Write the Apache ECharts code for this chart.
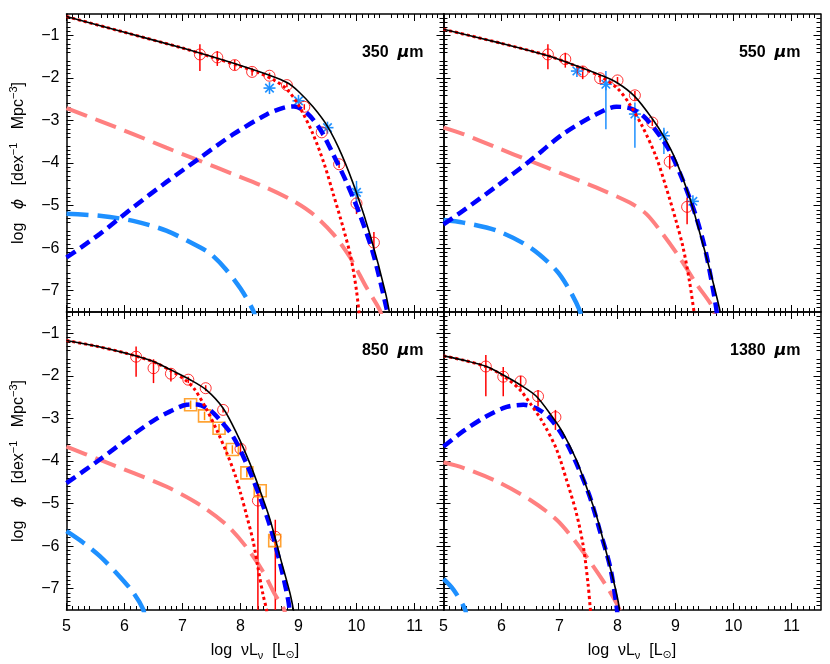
<!DOCTYPE html>
<html>
<head>
<meta charset="utf-8">
<script src="https://cdn.jsdelivr.net/npm/echarts@6/dist/echarts.min.js"></script>
<style>
  html, body { margin: 0; padding: 0; background: #fff; }
  #chart { width: 830px; height: 664px; background: #fff; }
</style>
</head>
<body>
<div id="chart"></div>
<script>
// curves: [log nuL_nu, log phi]
// 350 um
var total350 = [[5,-0.56],[6,-0.93],[7,-1.30],[7.5,-1.50],[8,-1.71],[8.5,-1.94],[8.8,-2.11],[9.0,-2.32],[9.25,-2.68],[9.5,-3.14],[9.75,-3.82],[10,-4.70],[10.25,-5.76],[10.5,-7.05],[10.6,-7.75]];
var dotted350 = [[5,-0.56],[6,-0.93],[7,-1.30],[7.5,-1.51],[8,-1.73],[8.3,-1.87],[8.6,-2.07],[8.8,-2.27],[9.0,-2.64],[9.25,-3.32],[9.45,-4.05],[9.6,-4.73],[9.77,-5.52],[9.9,-6.2],[10.0,-7.0],[10.06,-7.75]];
var blue350 = [[5,-6.22],[5.57,-5.67],[6.15,-5.04],[6.72,-4.45],[7.3,-3.88],[7.87,-3.33],[8.45,-2.86],[8.75,-2.70],[8.92,-2.67],[9.14,-2.82],[9.37,-3.2],[9.6,-3.8],[9.83,-4.46],[10.06,-5.22],[10.29,-6.14],[10.52,-7.43],[10.56,-7.75]];
var pink350 = [[5,-2.71],[5.57,-3.01],[6.15,-3.32],[6.72,-3.64],[7.3,-3.95],[7.87,-4.26],[8.45,-4.58],[8.91,-4.89],[9.25,-5.20],[9.6,-5.67],[9.89,-6.22],[10.17,-6.92],[10.4,-7.45],[10.46,-7.75]];
var cyan350 = [[5,-5.19],[5.57,-5.24],[6.15,-5.36],[6.72,-5.59],[7.3,-5.98],[7.5,-6.15],[7.75,-6.5],[8.0,-6.95],[8.22,-7.47],[8.27,-7.75]];
// points: [x, y, yLow, yHigh]
var circles350 = [[7.3,-1.45,-1.84,-1.21],[7.6,-1.52,-1.72,-1.37],[7.9,-1.70,-1.82,-1.58],[8.2,-1.86,-1.95,-1.76],[8.5,-1.95,-2.02,-1.88],[8.8,-2.17,-2.22,-2.12],[9.1,-2.68,-2.75,-2.62],[9.4,-3.28,-3.36,-3.20],[9.7,-4.03,-4.12,-3.94],[10.0,-4.95,-5.2,-4.75],[10.3,-5.87,-6.2,-5.62]];
var stars350 = [[8.5,-2.24,-2.24,-2.24],[9.0,-2.54,-2.58,-2.50],[9.5,-3.17,-3.22,-3.12],[10.0,-4.69,-5.03,-4.42]];

// 550 um
var total550 = [[5,-0.86],[6,-1.19],[6.8,-1.48],[7.3,-1.72],[7.7,-1.93],[8.0,-2.12],[8.3,-2.44],[8.6,-2.96],[8.8,-3.38],[9.0,-3.92],[9.25,-4.84],[9.4,-5.55],[9.6,-6.55],[9.76,-7.43],[9.8,-7.75]];
var dotted550 = [[5,-0.86],[6,-1.19],[6.8,-1.48],[7.3,-1.73],[7.7,-1.96],[8.0,-2.25],[8.2,-2.60],[8.44,-3.17],[8.67,-3.87],[8.84,-4.58],[9.01,-5.36],[9.13,-5.98],[9.24,-6.77],[9.32,-7.5],[9.35,-7.75]];
var blue550 = [[5,-5.44],[5.34,-5.12],[5.92,-4.54],[6.49,-3.95],[7.06,-3.32],[7.64,-2.85],[7.98,-2.68],[8.21,-2.71],[8.44,-2.89],[8.67,-3.25],[8.9,-3.72],[9.13,-4.42],[9.36,-5.28],[9.53,-6.14],[9.7,-7.39],[9.73,-7.75]];
var pink550 = [[5,-3.17],[5.34,-3.32],[5.92,-3.64],[6.49,-3.95],[7.06,-4.26],[7.64,-4.58],[8.21,-4.93],[8.5,-5.20],[8.78,-5.67],[9.07,-6.22],[9.36,-6.84],[9.64,-7.39],[9.7,-7.75]];
var cyan550 = [[5,-5.34],[5.34,-5.40],[5.92,-5.59],[6.49,-5.98],[6.95,-6.53],[7.18,-7.0],[7.35,-7.47],[7.4,-7.75]];
var circles550 = [[6.8,-1.45,-1.80,-1.21],[7.1,-1.56,-1.76,-1.41],[7.4,-1.85,-2.03,-1.72],[7.7,-2.01,-2.11,-1.92],[8.0,-2.06,-2.15,-1.98],[8.3,-2.41,-2.54,-2.31],[8.6,-3.05,-3.13,-2.97],[8.9,-3.97,-4.15,-3.79],[9.2,-5.03,-5.44,-4.81]];
var stars550 = [[7.3,-1.84,-1.90,-1.76],[7.8,-2.15,-3.21,-1.84],[8.3,-2.85,-3.64,-2.58],[8.8,-3.36,-3.79,-3.17],[9.3,-4.90,-4.95,-4.85]];

// 850 um
var total850 = [[5,-1.17],[5.5,-1.30],[6,-1.46],[6.5,-1.66],[6.8,-1.86],[7.13,-2.09],[7.41,-2.33],[7.7,-2.76],[7.93,-3.34],[8.16,-4.05],[8.33,-4.67],[8.51,-5.38],[8.68,-6.24],[8.85,-7.09],[8.91,-7.48],[8.94,-7.75]];
var dotted850 = [[5,-1.17],[5.5,-1.30],[6,-1.46],[6.5,-1.67],[6.8,-1.88],[7.05,-2.1],[7.2,-2.3],[7.4,-2.75],[7.6,-3.3],[7.76,-3.8],[7.9,-4.3],[8.0,-4.75],[8.1,-5.25],[8.22,-5.9],[8.3,-6.5],[8.39,-7.15],[8.45,-7.5],[8.47,-7.75]];
var blue850 = [[5,-4.52],[5.57,-3.97],[6.15,-3.38],[6.5,-3.05],[6.78,-2.84],[7.07,-2.68],[7.25,-2.67],[7.47,-2.80],[7.64,-3.03],[7.87,-3.42],[8.1,-4.05],[8.33,-4.83],[8.51,-5.53],[8.68,-6.39],[8.82,-7.25],[8.87,-7.75]];
var pink850 = [[5,-3.66],[5.57,-3.97],[6.15,-4.28],[6.72,-4.6],[7.3,-5.03],[7.76,-5.5],[8.1,-6.02],[8.39,-6.6],[8.6,-7.15],[8.74,-7.45],[8.8,-7.75]];
var cyan850 = [[5,-5.65],[5.29,-5.92],[5.57,-6.23],[5.86,-6.63],[6.15,-7.09],[6.32,-7.48],[6.36,-7.75]];
var circles850 = [[6.2,-1.55,-2.02,-1.31],[6.5,-1.82,-2.17,-1.61],[6.8,-1.95,-2.13,-1.82],[7.1,-2.09,-2.17,-2.02],[7.4,-2.29,-2.36,-2.22],[7.7,-2.80,-2.86,-2.75],[8.0,-3.71,-3.86,-3.58],[8.3,-4.93,-9,-4.59],[8.6,-5.78,-9,-5.38]];
var squares850 = [[7.14,-2.68,-2.78,-2.58],[7.38,-2.94,-3.04,-2.84],[7.63,-3.23,-3.33,-3.13],[7.86,-3.73,-3.83,-3.63],[8.11,-4.28,-4.38,-4.18],[8.34,-4.70,-4.80,-4.60],[8.59,-5.87,-5.97,-5.77]];

// 1380 um
var total1380 = [[5,-1.53],[5.34,-1.63],[5.74,-1.78],[6.03,-1.98],[6.32,-2.21],[6.6,-2.48],[6.89,-2.99],[7.06,-3.34],[7.29,-3.97],[7.46,-4.59],[7.64,-5.30],[7.81,-6.16],[7.98,-7.09],[8.03,-7.45],[8.06,-7.75]];
var dotted1380 = [[5,-1.53],[5.34,-1.63],[5.74,-1.79],[6.03,-2.0],[6.32,-2.33],[6.49,-2.64],[6.72,-3.11],[6.95,-3.73],[7.12,-4.44],[7.29,-5.22],[7.41,-6.0],[7.49,-6.86],[7.53,-7.45],[7.55,-7.75]];
var blue1380 = [[5,-3.66],[5.34,-3.30],[5.74,-2.95],[6.09,-2.73],[6.38,-2.68],[6.6,-2.76],[6.83,-2.99],[7.06,-3.42],[7.29,-4.05],[7.52,-4.83],[7.69,-5.61],[7.87,-6.47],[7.98,-7.37],[8.01,-7.75]];
var pink1380 = [[5,-4.03],[5.34,-4.16],[5.92,-4.48],[6.49,-4.91],[6.95,-5.38],[7.29,-5.92],[7.58,-6.47],[7.81,-6.94],[7.98,-7.33],[8.05,-7.55],[8.1,-7.75]];
var cyan1380 = [[5,-6.77],[5.17,-7.02],[5.37,-7.48],[5.4,-7.75]];
var circles1380 = [[5.73,-1.78,-2.48,-1.51],[6.03,-2.02,-2.48,-1.79],[6.33,-2.13,-2.37,-2.0],[6.63,-2.48,-2.72,-2.33],[6.93,-2.97,-3.27,-2.80]];

var xTicks = [5, 6, 7, 8, 9, 10, 11];
var yTicks = [-1, -2, -3, -4, -5, -6, -7];

var panels = [
  { wave: '350', total: total350, dotted: dotted350, blue: blue350, pink: pink350, cyan: cyan350, circles: circles350, stars: stars350, squares: [] },
  { wave: '550', total: total550, dotted: dotted550, blue: blue550, pink: pink550, cyan: cyan550, circles: circles550, stars: stars550, squares: [] },
  { wave: '850', total: total850, dotted: dotted850, blue: blue850, pink: pink850, cyan: cyan850, circles: circles850, stars: [], squares: squares850 },
  { wave: '1380', total: total1380, dotted: dotted1380, blue: blue1380, pink: pink1380, cyan: cyan1380, circles: circles1380, stars: [], squares: [] }
];

var FONT = '"Liberation Sans", Arial, Helvetica, sans-serif';
var GL = [66.5, 443.5], GT = [14, 312], GW = 377, GH = 298;

// only label the integer ticks, with a real minus sign
function tickLabel(v) {
  var r = Math.round(v);
  if (Math.abs(v - r) > 1e-6) return '';
  if (xTicks.indexOf(r) < 0 && yTicks.indexOf(r) < 0) return '';
  return String(r).replace('-', '\u2212');
}

var nameRich = {
  a: { fontSize: 16, fontFamily: FONT, color: '#000', lineHeight: 20 },
  i: { fontSize: 16, fontFamily: '"DejaVu Sans", sans-serif', fontStyle: 'italic', color: '#000', lineHeight: 20 },
  sub: { fontSize: 11, fontFamily: FONT, color: '#000', verticalAlign: 'bottom', padding: [8, 0, 0, 0] },
  sup: { fontSize: 11, fontFamily: FONT, color: '#000', verticalAlign: 'top', padding: [0, 0, 8, 0] },
  dot: { fontSize: 11, fontFamily: '"DejaVu Sans", sans-serif', color: '#000', verticalAlign: 'bottom', padding: [8, 0, 0, 0] }
};

// scale steps of 0.5 split into 0.1 minor ticks; long ticks and labels only on the integers
function axisCommon(ticks, labels, margin) {
  return {
    interval: 0.5,
    axisLine: { show: true, onZero: false, lineStyle: { color: '#000', width: 1.5 } },
    axisTick: { show: true, inside: true, length: 7, customValues: ticks, lineStyle: { color: '#000', width: 1 } },
    minorTick: { show: true, splitNumber: 5, length: 4, lineStyle: { color: '#000', width: 1 } },
    axisLabel: { show: labels, customValues: ticks, formatter: tickLabel, color: '#000', fontSize: 16, fontFamily: FONT, margin: margin },
    splitLine: { show: false },
    minorSplitLine: { show: false }
  };
}

function xAxis(g, pos, labels) {
  var ax = axisCommon(xTicks, labels, 9);
  ax.type = 'value'; ax.gridIndex = g; ax.position = pos; ax.min = 5; ax.max = 11.5;
  ax.name = labels ? '{a|log  \u03bd}{a|L}{sub|\u03bd}{a|  [L}{dot|\u2299}{a|]}' : '';
  ax.nameLocation = 'middle'; ax.nameGap = 31;
  ax.nameTextStyle = { rich: nameRich };
  return ax;
}

function yAxis(g, pos, labels) {
  var ax = axisCommon(yTicks, labels, 7);
  ax.type = 'value'; ax.gridIndex = g; ax.position = pos; ax.min = -7.5; ax.max = -0.5;
  ax.name = labels ? '{a|log   }{i|\u03d5}{a|   [dex}{sup|\u22121}{a|   Mpc}{sup|\u22123}{a|]}' : '';
  ax.nameLocation = 'middle'; ax.nameGap = 38; ax.nameRotate = 90;
  ax.nameTextStyle = { rich: nameRich };
  return ax;
}

function curve(p, data, color, width, dash) {
  return {
    type: 'line', xAxisIndex: 2 * p, yAxisIndex: 2 * p, data: data,
    symbol: 'none', smooth: 0.3, clip: true, silent: true,
    lineStyle: { color: color, width: width, type: dash, cap: 'butt' }
  };
}

function errBars(p, pts, color, width) {
  return {
    type: 'custom', xAxisIndex: 2 * p, yAxisIndex: 2 * p, clip: true, silent: true,
    data: pts.map(function (d) { return [d[0], d[2], d[3]]; }),
    encode: { x: 0, y: [1, 2] },
    renderItem: function (params, api) {
      var a = api.coord([api.value(0), api.value(1)]);
      var b = api.coord([api.value(0), api.value(2)]);
      return { type: 'line', shape: { x1: a[0], y1: a[1], x2: b[0], y2: b[1] }, style: { stroke: color, lineWidth: width } };
    }
  };
}

function markers(p, pts, symbol, size, color, width) {
  return {
    type: 'scatter', xAxisIndex: 2 * p, yAxisIndex: 2 * p, silent: true,
    data: pts.map(function (d) { return [d[0], d[1]]; }),
    symbol: symbol, symbolSize: size,
    itemStyle: { color: 'rgba(0,0,0,0)', borderColor: color, borderWidth: width }
  };
}

function asterisks(p, pts) {
  return {
    type: 'custom', xAxisIndex: 2 * p, yAxisIndex: 2 * p, clip: true, silent: true,
    data: pts.map(function (d) { return [d[0], d[1]]; }),
    renderItem: function (params, api) {
      var c = api.coord([api.value(0), api.value(1)]);
      var r = 6;
      var arms = [0, 45, 90, 135].map(function (deg) {
        var t = deg * Math.PI / 180, dx = r * Math.cos(t), dy = r * Math.sin(t);
        return { type: 'line', shape: { x1: c[0] - dx, y1: c[1] - dy, x2: c[0] + dx, y2: c[1] + dy }, style: { stroke: '#1e90ff', lineWidth: 1.6 } };
      });
      return { type: 'group', children: arms };
    }
  };
}

var grids = [], xAxes = [], yAxes = [], series = [], titles = [];

panels.forEach(function (pn, p) {
  var col = p % 2, row = Math.floor(p / 2);
  grids.push({ left: GL[col], top: GT[row], width: GW, height: GH });

  xAxes.push(xAxis(p, 'bottom', row === 1));
  xAxes.push(xAxis(p, 'top', false));
  yAxes.push(yAxis(p, 'left', col === 0));
  yAxes.push(yAxis(p, 'right', false));

  series.push(curve(p, pn.pink, '#ff8080', 4, [22, 9]));
  series.push(curve(p, pn.cyan, '#1e90ff', 4.5, [22, 9]));
  series.push(curve(p, pn.blue, '#0000ff', 4.5, [11, 6]));
  series.push(curve(p, pn.dotted, '#ff0000', 3, [3, 3]));
  series.push(curve(p, pn.total, '#000000', 1.6, 'solid'));

  series.push(errBars(p, pn.circles, '#ff0000', 1.5));
  series.push(markers(p, pn.circles, 'circle', 11, '#ff0000', 1));
  if (pn.squares.length) {
    series.push(errBars(p, pn.squares, '#ff8c00', 1.5));
    series.push(markers(p, pn.squares, 'rect', 12, '#ff8c00', 1.6));
  }
  if (pn.stars.length) {
    series.push(errBars(p, pn.stars, '#1e90ff', 1.5));
    series.push(asterisks(p, pn.stars));
  }

  // wavelength tag in the top right corner of each panel
  titles.push({
    text: '{n|' + pn.wave + '  }{u|\u03bc}{n|m}',
    right: 830 - (GL[col] + GW - 20), top: GT[row] + 29, padding: 0,
    textStyle: {
      rich: {
        n: { fontSize: 16, fontFamily: FONT, color: '#000', lineHeight: 20 },
        u: { fontSize: 16, fontFamily: '"DejaVu Sans", sans-serif', fontStyle: 'italic', color: '#000', lineHeight: 20 }
      }
    }
  });
});

var chart = echarts.init(document.getElementById('chart'));
chart.setOption({
  animation: false,
  title: titles,
  grid: grids,
  xAxis: xAxes,
  yAxis: yAxes,
  series: series
});
</script>
</body>
</html>
